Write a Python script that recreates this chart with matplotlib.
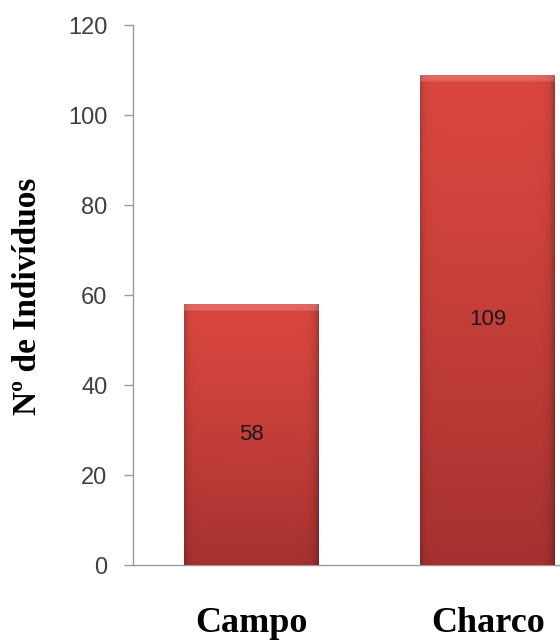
import numpy as np
import matplotlib.pyplot as plt
from matplotlib.colors import to_rgb

categories = ['Campo', 'Charco']
values = [58, 109]
yticks = [0, 20, 40, 60, 80, 100, 120]

fig = plt.figure(figsize=(5.6, 6.4), dpi=100)
ax = fig.add_axes([133/560, 75/640, 473/560, 540/640])

x = np.arange(len(categories))
bars = ax.bar(x, values, width=0.57, color='#d04340', zorder=2)

# gradient shading on each bar
top_c = np.array(to_rgb('#d9473f'))
bot_c = np.array(to_rgb('#a53130'))
for b in bars:
    x0, w, h = b.get_x(), b.get_width(), b.get_height()
    ny, nx = 200, 100
    t = np.linspace(0, 1, ny)[:, None, None] ** 1.3
    img = top_c * (1 - t) + bot_c * t
    img = np.repeat(img, nx, axis=1)
    # darker vertical edges
    u = np.linspace(0, 1, nx)
    edge = np.clip(1 - 0.18 * np.exp(-u / 0.025) - 0.25 * np.exp(-(1 - u) / 0.03), 0, 1)
    img = img * edge[None, :, None]
    # lighter bevel at top
    ypx = np.linspace(0, 1, ny) * h * 4.5
    bevel = np.where(ypx < 6, 0.18, 0.0)[:, None, None]
    img = img + (1 - img) * bevel
    im = ax.imshow(np.clip(img, 0, 1), extent=[x0, x0 + w, 0, h], aspect='auto',
                   zorder=3, origin='upper', interpolation='bilinear')
    im.set_clip_path(b)
    ax.text(x0 + w / 2, h / 2, str(int(h)), ha='center', va='center',
            fontsize=16, family='Liberation Sans', color='#1a1a1a', zorder=4)

ax.set_xlim(-0.5, 1.5)
ax.set_ylim(0, 120)
ax.set_yticks(yticks)
ax.set_yticklabels([str(v) for v in yticks], family='Liberation Sans',
                   fontsize=17, color='#404040')
ax.set_xticks(x)
ax.set_xticklabels(categories, family='Liberation Serif', fontweight='bold',
                   fontsize=26, color='black')
ax.tick_params(axis='y', direction='out', length=6.5, width=1, color='#999999', pad=12)
ax.tick_params(axis='x', length=0, pad=30)
for s in ['top', 'right']:
    ax.spines[s].set_visible(False)
for s in ['left', 'bottom']:
    ax.spines[s].set_color('#999999')
    ax.spines[s].set_linewidth(1)

fig.text(28/560, 1 - 296/640, 'Nº de Indivíduos', rotation=90, ha='center', va='center',
         family='Liberation Serif', fontweight='bold', fontsize=24)

fig.savefig('out.png', dpi=100)
